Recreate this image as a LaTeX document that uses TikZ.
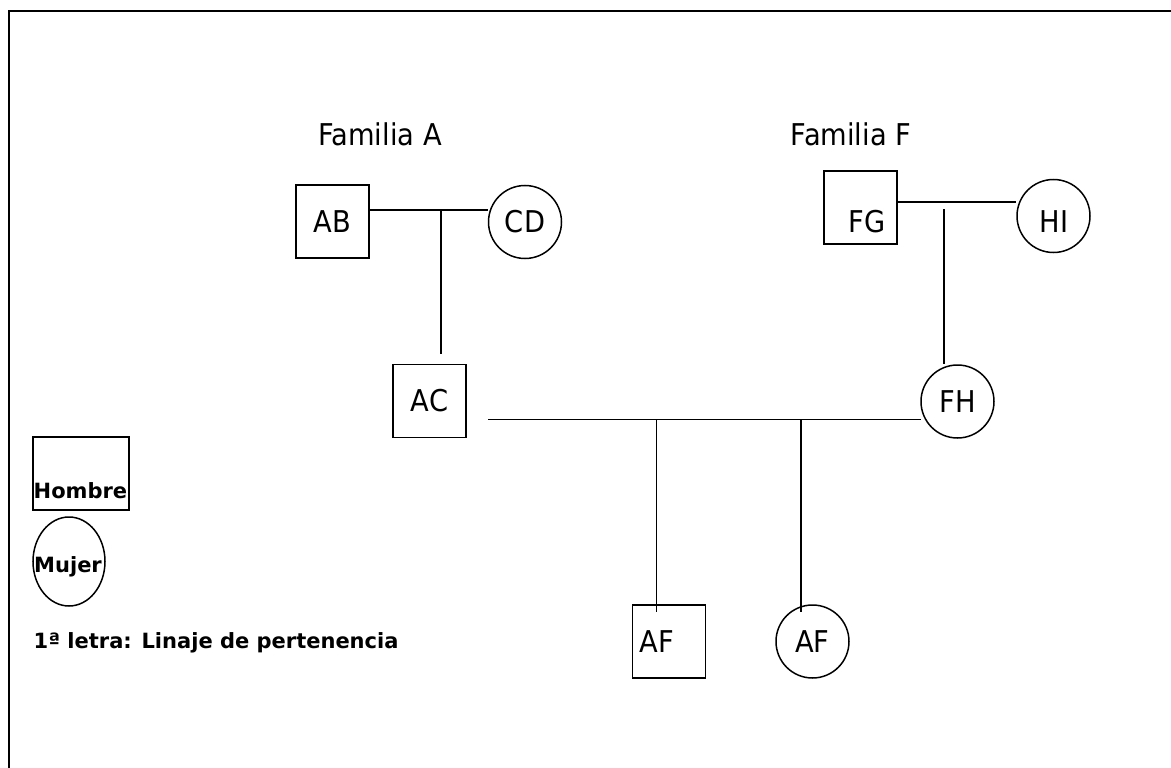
\documentclass[tikz,border=0pt]{standalone}
\usepackage{fontspec}
\setmainfont{DejaVu Sans}[FakeStretch=0.91]
\newfontfamily\legfont{DejaVu Sans}
\usetikzlibrary{shapes.geometric}
\begin{document}
\begin{tikzpicture}[x=1pt,y=-1pt,
  lw/.style={line width=1.5pt},
  person/.style={draw,lw,minimum size=73pt,inner sep=0pt},
  male/.style={person,rectangle},
  female/.style={person,circle},
  big/.style={font=\fontsize{30}{33}\selectfont},
  leg/.style={font=\legfont\fontsize{21}{24}\selectfont\bfseries},
  link/.style={lw}]
\useasboundingbox (0,0) rectangle (1171,768);
\clip (0,0) rectangle (1171,768);
\fill[white] (0,0) rectangle (1171,768);
\draw[line width=2.4pt] (9,11) rectangle (1200,800);

% titles
\node[big] (famA) at (380,134) {Familia A};
\node[big] (famF) at (851,134) {Familia F};

% family A
\node[male,big] (AB) at (332.5,221.5) {AB};
\node[female,big] (CD) at (525,222) {CD};
\coordinate (ABm) at (441,210);
\coordinate (ABc) at (441,354);
\draw[link] (AB.east |- ABm) -- (CD.west |- ABm);
\draw[link] (ABm) -- (ABc);

% family F
\node[male] (FG) at (860.5,207.5) {};
\node[big] (FGt) at (867,222) {FG};
\node[female] (HI) at (1053.5,216) {};
\node[big] (HIt) at (1054,222) {HI};
\coordinate (FGm) at (944,202);
\coordinate (FGt1) at (944,209);
\draw[link] (FG.east |- FGm) -- (HI.west |- FGm);
\node[male,big] (AC) at (429.5,401) {AC};
\node[female,big] (FH) at (957.5,401.5) {FH};
\draw[link] (FGt1) -- (FGt1 |- FH.north);

% couple line
\coordinate (Cl) at (488,419.5);
\coordinate (Cr) at (921,419.5);
\draw[link] (Cl) -- (Cr);

% children
\node[male] (AF1) at (669,641.5) {};
\node[big] (AF1t) at (657,642) {AF};
\node[female,big] (AF2) at (812.5,641.5) {AF};
\coordinate (c1) at (656.5,419.5);
\coordinate (c2) at (801,419.5);
\draw[link] (c1) -- (c1 |- 0,612);
\draw[link] (c2) -- (c2 |- 0,612);

% legend
\node[draw,lw,rectangle,minimum width=96pt,minimum height=73pt,inner sep=0pt] (Hbox) at (81,473.5) {};
\node[leg,anchor=base west,inner sep=0pt] (Ht) at (33.5,498) {Hombre};
\node[draw,lw,ellipse,minimum width=72pt,minimum height=89pt,inner sep=0pt] (Mell) at (69,561.5) {};
\node[leg,anchor=base west,inner sep=0pt] (Mt) at (34,572) {Mujer};
\node[leg,anchor=base west,inner sep=0pt] (note) at (33.5,648) {1ª letra: Linaje de pertenencia};
\end{tikzpicture}
\end{document}
